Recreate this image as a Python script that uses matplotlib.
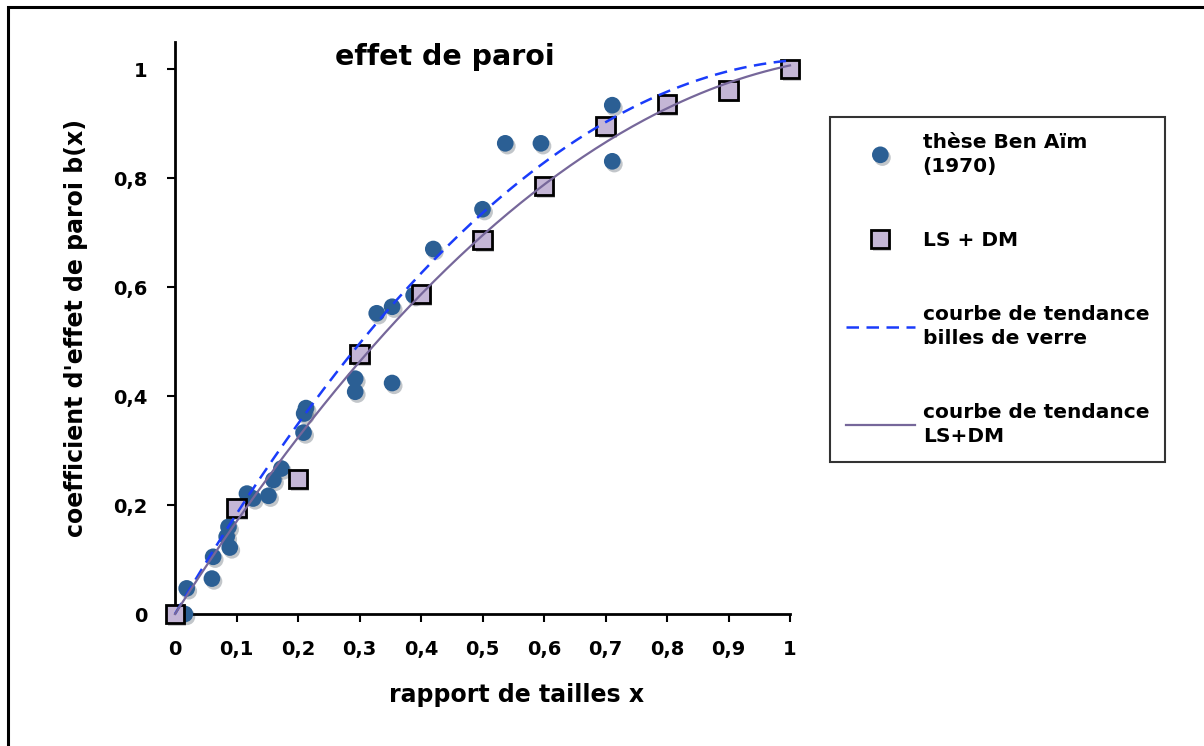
import matplotlib
matplotlib.use("Agg")
import matplotlib.pyplot as plt
import matplotlib.patheffects as pe
import numpy as np
from matplotlib.patches import Rectangle

# thèse Ben Aïm (1970)
ben_aim_x = [0.016, 0.019, 0.060, 0.062, 0.084, 0.087, 0.089, 0.117, 0.127, 0.152,
             0.160, 0.173, 0.209, 0.210, 0.213, 0.293, 0.293, 0.328, 0.353, 0.353,
             0.388, 0.420, 0.500, 0.537, 0.595, 0.711, 0.711]
ben_aim_y = [0.000, 0.047, 0.065, 0.105, 0.142, 0.160, 0.122, 0.221, 0.212, 0.217,
             0.246, 0.267, 0.333, 0.368, 0.378, 0.432, 0.408, 0.552, 0.564, 0.424,
             0.585, 0.670, 0.743, 0.864, 0.864, 0.934, 0.831]

# LS + DM
ls_dm_x = [0.0, 0.1, 0.2, 0.3, 0.4, 0.5, 0.6, 0.7, 0.8, 0.9, 1.0]
ls_dm_y = [0.0, 0.194, 0.247, 0.477, 0.587, 0.686, 0.785, 0.895, 0.936, 0.961, 1.0]

# trend curves y = a*x + b*x^2 (coefficients)
trend_verre = [1.928, -0.912]
trend_ls_dm = [1.773, -0.766]

x_ticks = [0, 0.1, 0.2, 0.3, 0.4, 0.5, 0.6, 0.7, 0.8, 0.9, 1.0]
x_labels = ["0", "0,1", "0,2", "0,3", "0,4", "0,5", "0,6", "0,7", "0,8", "0,9", "1"]
y_ticks = [0, 0.2, 0.4, 0.6, 0.8, 1.0]
y_labels = ["0", "0,2", "0,4", "0,6", "0,8", "1"]

plt.rcParams["font.family"] = ["DejaVu Sans"]
plt.rcParams["font.weight"] = "bold"

fig = plt.figure(figsize=(12.04, 7.46), dpi=100)
fig.patches.append(Rectangle((8 / 1204, -0.02), 1.05, 1 - 7 / 746 + 0.02,
                             transform=fig.transFigure, fill=False,
                             edgecolor="black", linewidth=2.2, zorder=0))

ax = fig.add_axes([175 / 1204, 1 - 614 / 746, 615 / 1204, 572 / 746])

xs = np.linspace(0, 1, 200)
shadow = [pe.SimplePatchShadow(offset=(1.5, -2), alpha=0.25), pe.Normal()]

ax.plot(ben_aim_x, ben_aim_y, "o", color="#2b5f94", markersize=12,
        markeredgewidth=0, clip_on=False, zorder=3, path_effects=shadow,
        label="thèse Ben Aïm\n(1970)")
ax.plot(ls_dm_x, ls_dm_y, "s", markerfacecolor="#c4b6d6", markeredgecolor="black",
        markeredgewidth=2, markersize=13, clip_on=False, zorder=4,
        path_effects=shadow, label="LS + DM")
ax.plot(xs, trend_verre[0] * xs + trend_verre[1] * xs ** 2, "--", color="#1a3cfa",
        linewidth=1.8, dashes=(5, 3), zorder=5, clip_on=False,
        label="courbe de tendance\nbilles de verre")
ax.plot(xs, trend_ls_dm[0] * xs + trend_ls_dm[1] * xs ** 2, "-", color="#76679a",
        linewidth=1.6, zorder=5, clip_on=False, label="courbe de tendance\nLS+DM")

ax.set_xlim(0, 1)
ax.set_ylim(0, 1.05)
ax.set_xticks(x_ticks)
ax.set_xticklabels(x_labels)
ax.set_yticks(y_ticks)
ax.set_yticklabels(y_labels)
ax.tick_params(axis="both", labelsize=14, width=1.5, length=6)
ax.tick_params(axis="y", pad=14)
ax.tick_params(axis="x", pad=13)
for s in ["top", "right"]:
    ax.spines[s].set_visible(False)
for s in ["left", "bottom"]:
    ax.spines[s].set_linewidth(2)

ax.set_xlabel("rapport de tailles x", fontsize=17, fontweight="bold")
ax.xaxis.set_label_coords((517 - 175) / 615, -0.12)
ax.set_ylabel("coefficient d'effet de paroi b(x)", fontsize=17,
              fontweight="bold", labelpad=18)
fig.text(445 / 1204, 1 - 57 / 746, "effet de paroi", fontsize=20.5,
         fontweight="bold", ha="center", va="center")

leg = ax.legend(loc="upper left", bbox_to_anchor=((830 - 175) / 615, 1 - (117 - 42) / 572),
                fontsize=14.5, frameon=True, fancybox=False, edgecolor="black",
                borderpad=0.8, labelspacing=2.75, handlelength=3.4,
                handletextpad=0.4, borderaxespad=0)
leg.get_frame().set_linewidth(1.5)
for t in leg.get_texts():
    t.set_fontweight("bold")
    t.set_linespacing(1.3)

fig.savefig("out.png", dpi=100)
